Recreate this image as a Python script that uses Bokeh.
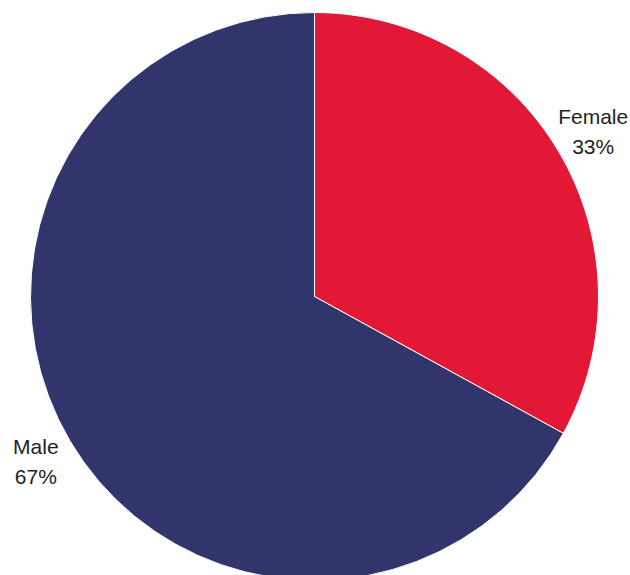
import numpy as np
from bokeh.plotting import figure
from bokeh.models import Range1d, ColumnDataSource
from bokeh.core.properties import value
from bokeh.embed import file_html
from bokeh.resources import INLINE

categories = ["Female", "Male"]
percents = [33, 67]
colors = ["#E31837", "#31356B"]

W, H = 630, 575
R = 284.0
cx_off, cy_off = 314, 296  # centre position inside canvas (px from left / top)

vals = np.array(percents, dtype=float)
frac = vals / vals.sum()
cum_end = np.cumsum(frac) * 2 * np.pi
cum_start = cum_end - frac * 2 * np.pi
start = np.pi / 2 - cum_end
end = np.pi / 2 - cum_start
mid = (start + end) / 2
lr = R * 1.14
lx = lr * np.cos(mid)
ly = lr * np.sin(mid)
labels = [f"{c}\n{p}%" for c, p in zip(categories, percents)]

src = ColumnDataSource(dict(start=start, end=end, color=colors, lx=lx, ly=ly, label=labels))

p = figure(width=W, height=H, output_backend="svg", toolbar_location=None,
           x_range=Range1d(-cx_off, W - cx_off), y_range=Range1d(-(H - cy_off), cy_off),
           min_border=0)
p.axis.visible = False
p.grid.visible = False
p.outline_line_color = None
p.background_fill_color = "white"
p.border_fill_color = "white"

p.wedge(x=0, y=0, radius=R, start_angle="start", end_angle="end", fill_color="color",
        line_color="white", line_width=1, source=src)
p.text(x="lx", y="ly", text="label", source=src, text_align="center", text_baseline="middle",
       text_font=value("Liberation Sans"), text_font_size="21px", text_color="#231F20",
       text_line_height=1.28)

open("out.html", "w").write(file_html(p, INLINE))
